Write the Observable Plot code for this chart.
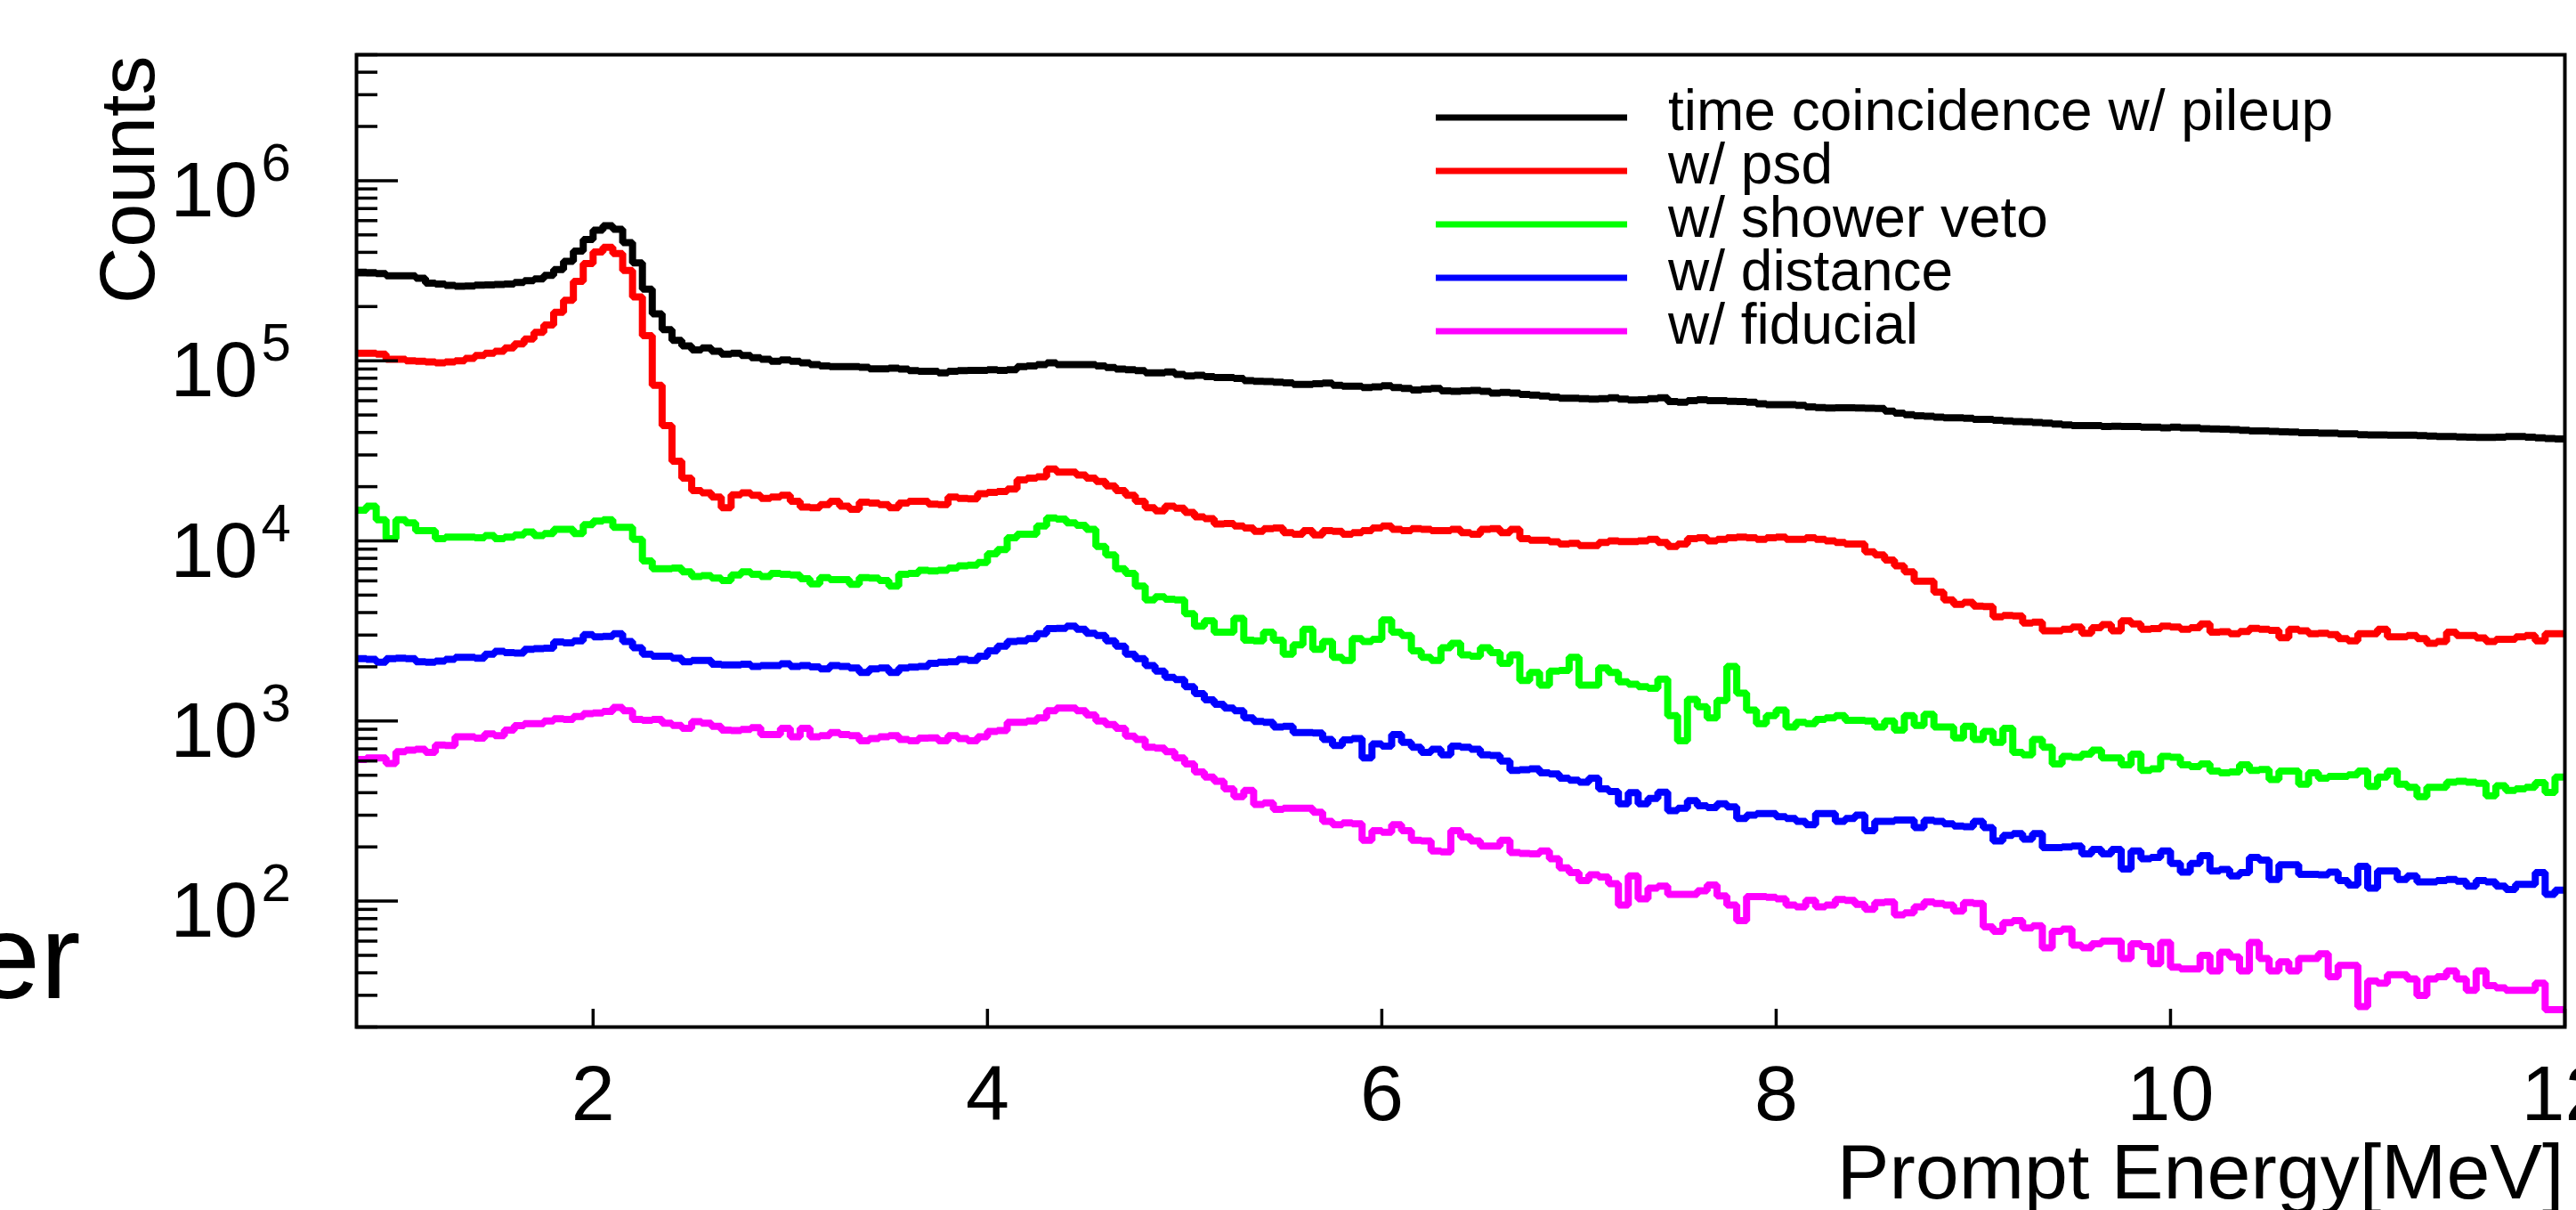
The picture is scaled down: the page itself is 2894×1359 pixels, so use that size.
<!DOCTYPE html>
<html><head><meta charset="utf-8">
<script src="https://cdn.jsdelivr.net/npm/d3@7"></script>
<script src="https://cdn.jsdelivr.net/npm/@observablehq/plot@0.6"></script>
<style>
html,body{margin:0;padding:0;background:#fff;}
#chart{width:2894px;height:1359px;overflow:hidden;}
</style></head><body><div id="chart"></div>
<script>
// Histogram binning (MeV): 224 bins from 0.8 to 12.0
const binStart = 0.8;
const binWidth = 0.05;

const seriesLabels = ["time coincidence w/ pileup", "w/ psd", "w/ shower veto", "w/ distance", "w/ fiducial"];
const seriesColors = ["#000000", "#ff0000", "#00ff00", "#0000ff", "#ff00ff"];

const timeCoincidence = [
310000,308000,305000,296000,296000,296000,287000,270000,267000,262000,
259000,260000,263000,264000,265000,267000,272000,278000,285000,298000,
321000,357000,407000,471000,531000,562000,537000,453000,350000,250000,
182000,149000,130000,121000,115000,118000,113000,109000,110000,107000,
104000,102000,99300,101000,99300,97300,95300,93500,92700,92700,
92700,92000,90200,90200,90900,89900,88100,87500,87500,85700,
87500,88100,88500,88500,89100,88500,89100,92700,93500,95300,
97300,95300,95300,95300,95300,93500,91700,89900,89100,88100,
85700,85700,86700,84000,82400,83000,81700,80700,80700,79800,
77600,76900,76700,76000,75500,74000,74000,74600,75200,73100,
72300,72300,71100,71600,72600,71100,70300,68900,69700,70300,
68100,67600,68100,68400,67600,66200,66800,66200,65000,64400,
63700,62900,61900,61900,61700,61200,61700,62400,61200,60500,
60700,61700,62400,59300,58900,60000,60700,60000,60000,59600,
59300,58900,57700,57000,57000,57000,56500,55500,55000,54700,
54900,54800,54700,54500,54300,52600,51200,50200,49500,49200,
48600,48200,48200,47900,47300,47300,46800,46400,46000,45800,
45500,45000,44600,44100,43700,43700,43700,43200,43300,43200,
43200,42800,42800,42400,42800,42400,42400,42000,41800,41700,
41500,41100,40800,40800,40500,40300,40200,39900,39900,39600,
39600,39300,39300,38900,38800,38800,38600,38600,38600,38400,
38200,38000,38000,37800,37700,37600,37600,37700,38000,38000,
37700,37300,37000,36800];

const withPsd = [
110000,110000,109000,102000,102000,100000,99500,98400,97300,98400,
100000,103000,107000,110000,113000,118000,124000,132000,144000,158000,
186000,217000,276000,347000,402000,427000,394000,317000,226000,138000,
73100,43700,27700,22300,19000,18500,17500,15300,18000,18500,
17900,17200,17500,17900,16600,15400,15300,15900,16600,15600,
15000,16400,16200,15900,15300,16200,16600,16600,16000,15900,
17500,17200,17100,18300,18600,18800,19400,21800,22300,22700,
25100,24100,24100,23200,22300,21400,20200,19000,17900,16600,
15300,14700,15600,15200,14400,13600,13300,12400,12500,12100,
11800,11300,11700,11800,11100,10900,11400,10800,11400,11300,
10900,11100,11400,11800,12100,11600,11400,11700,11600,11400,
11400,11600,11100,10900,11600,11700,11100,11600,10300,10100,
10100,9890,9610,9690,9420,9420,9800,10000,9920,9920,
10000,10200,9800,9310,9610,10300,10400,10000,10200,10400,
10500,10400,10200,10400,10500,10200,10200,10400,10200,10000,
9800,9610,9610,8710,8370,7820,7280,6730,5970,5970,
5200,4710,4440,4560,4350,4320,3790,3860,3830,3500,
3540,3170,3170,3230,3320,3070,3300,3430,3170,3600,
3460,3230,3260,3360,3320,3230,3300,3460,3110,3130,
3050,3140,3270,3230,3190,2900,3230,3170,3050,3070,
3020,2870,2790,3050,3050,3230,2930,2930,2980,2870,
2700,2760,3110,2980,2980,2890,2760,2840,2840,2930,
2980,2790,3050,3050];

const withShowerVeto = [
14800,15600,13100,10300,13100,12600,11400,11400,10300,10500,
10500,10500,10400,10700,10300,10500,10800,11200,10700,11000,
11600,11600,11000,12300,12900,13100,11900,11900,10200,7730,
7000,7000,7060,6730,6340,6420,6210,6020,6470,6730,
6520,6340,6600,6520,6470,6170,5780,6260,6100,6100,
5740,6260,6210,6020,5620,6520,6600,6860,6810,6860,
7060,7280,7340,7580,8470,8950,10400,10900,10900,12100,
13400,13200,12600,12200,11600,9310,8370,7000,6600,5620,
4710,4900,4740,4710,3940,3360,3600,3110,3110,3710,
2810,2790,3110,2810,2350,2650,3230,2500,2760,2260,
2170,2870,2760,2840,3640,3110,2980,2450,2260,2170,
2550,2700,2330,2290,2550,2400,2090,2330,1680,1860,
1580,1890,1910,2260,1580,1580,1970,1860,1650,1600,
1550,1520,1710,1070,776,1320,1200,1040,1300,2010,
1430,1150,966,1070,1150,927,984,966,1020,1040,
1070,1010,1010,1000,927,1000,891,1070,946,1090,
927,927,807,935,791,875,761,910,670,649,
791,716,577,637,630,655,689,624,624,572,
655,532,543,637,630,572,558,577,528,516,
522,572,532,538,473,528,528,446,516,481,
492,492,502,528,434,489,528,446,429,380,
429,429,458,463,458,451,385,437,412,420,
429,455,401,489];

const withDistance = [
2220,2200,2120,2220,2230,2220,2130,2120,2150,2200,
2260,2260,2230,2350,2440,2400,2380,2500,2520,2540,
2750,2720,2790,3020,2930,2950,3050,2760,2550,2350,
2290,2290,2230,2130,2170,2170,2070,2050,2050,2070,
2010,2030,2030,2080,2010,2030,2000,1950,2030,2010,
1970,1860,1950,1970,1860,1970,1990,2010,2090,2120,
2130,2200,2170,2290,2450,2600,2760,2790,2870,3050,
3260,3270,3360,3230,3070,2980,2790,2600,2350,2220,
2030,1890,1750,1700,1550,1420,1310,1240,1180,1140,
1040,996,984,927,935,863,863,857,791,731,
785,798,624,746,726,840,761,716,670,697,
649,726,716,697,649,644,600,532,537,543,
516,508,482,469,458,482,420,406,347,400,
347,372,403,318,328,361,338,331,347,334,
288,300,306,306,294,288,277,266,306,306,
277,288,300,246,277,277,282,282,256,281,
277,269,261,259,277,256,216,232,237,221,
237,198,198,200,202,183,194,183,194,151,
190,172,175,190,162,145,162,179,147,150,
138,144,175,169,132,159,159,141,141,140,
145,130,123,156,118,147,147,132,138,128,
128,130,132,129,121,130,128,121,116,124,
124,144,109,115];

const withFiducial = [
612,624,624,581,676,689,697,670,736,731,
817,817,804,849,830,891,942,966,966,1000,
1030,1020,1060,1100,1110,1130,1190,1140,1020,1010,
1020,973,946,910,993,973,935,891,885,899,
920,840,840,910,817,910,817,830,863,840,
830,776,798,817,830,791,776,804,807,776,
830,798,776,817,875,885,984,984,1000,1040,
1140,1180,1180,1140,1080,1000,957,910,824,791,
716,708,676,624,577,522,489,463,420,380,
412,344,351,323,328,328,328,312,277,266,
272,269,218,246,241,266,246,218,216,190,
188,246,227,216,202,202,218,186,184,183,
190,172,153,144,130,140,136,125,95,138,
103,118,121,109,109,109,114,123,107,95,
78,106,106,105,103,95,93,101,93,95,
102,101,96,90,98,99,84,86,93,99,
97,95,88,98,97,72,68,76,78,71,
73,55,68,70,57,55,58,60,60,48,
58,56,45,59,43,42,42,50,41,52,
49,41,59,48,41,46,41,48,48,51,
38,44,44,26,36,35,39,39,37,30,
37,38,41,37,32,41,34,33,32,32,
32,35,25,25];

// Axis ticks and labels
const xTicks = [2, 4, 6, 8, 10, 12];
const yMajorTicks = [1e2, 1e3, 1e4, 1e5, 1e6];
const yExponents = ["2", "3", "4", "5", "6"];
const xDomain = [0.8, 12];
const yDomain = [20, 5e6];
const xTitle = "Prompt Energy[MeV]";
const yTitle = "Counts";
const strayText = "er";

const allSeries = [timeCoincidence, withPsd, withShowerVeto, withDistance, withFiducial];

// Long table of bin edges (step-after needs the closing right edge)
const rows = [];
allSeries.forEach((vals, s) => {
  vals.forEach((v, i) => rows.push({series: seriesLabels[s], x: binStart + i * binWidth, count: v}));
  rows.push({series: seriesLabels[s], x: binStart + vals.length * binWidth, count: vals[vals.length - 1]});
});

const yMinorTicks = [];
for (let k = 1; k <= 6; k++) for (let m = 2; m <= 9; m++) {
  const v = m * Math.pow(10, k);
  if (v >= yDomain[0] && v <= yDomain[1]) yMinorTicks.push(v);
}

const W = 2894, H = 1359;
const mL = 400, mT = 61, mR = 13, mB = 206;
const frameW = W - mL - mR, frameH = H - mT - mB;
const font = "'Liberation Sans', Arial, Helvetica, sans-serif";

const chart = Plot.plot({
  width: W, height: H,
  marginLeft: mL, marginTop: mT, marginRight: mR, marginBottom: mB,
  x: {domain: xDomain, axis: null},
  y: {type: "log", domain: yDomain, axis: null},
  color: {domain: seriesLabels, range: seriesColors},
  style: {fontFamily: font, background: "white", color: "black"},
  marks: [
    Plot.line(rows, {x: "x", y: "count", z: "series", stroke: "series", strokeWidth: 8, curve: "step-after", strokeLinejoin: "miter", strokeLinecap: "butt"}),
    Plot.frame({stroke: "black", strokeWidth: 4}),
    Plot.tickY(yMajorTicks, {y: d => d, insetRight: frameW - 47, strokeWidth: 3.5, stroke: "black"}),
    Plot.tickY(yMinorTicks, {y: d => d, insetRight: frameW - 24, strokeWidth: 3.5, stroke: "black"}),
    Plot.tickX(xTicks, {x: d => d, insetTop: frameH - 20, strokeWidth: 3.5, stroke: "black"}),
    Plot.text(yMajorTicks, {y: d => d, frameAnchor: "left", text: () => "10", textAnchor: "end", lineAnchor: "bottom", dx: -111, dy: 40, fontSize: 88}),
    Plot.text(yMajorTicks, {y: d => d, frameAnchor: "left", text: (d, i) => yExponents[i], textAnchor: "start", lineAnchor: "bottom", dx: -107, dy: 0, fontSize: 60}),
    Plot.text(xTicks, {x: d => d, frameAnchor: "bottom", text: d => String(d), textAnchor: "middle", lineAnchor: "bottom", dy: 104, fontSize: 88}),
    Plot.text([yTitle], {frameAnchor: "top-left", text: d => d, rotate: -90, textAnchor: "end", lineAnchor: "bottom", dx: -228, dy: 1, fontSize: 88}),
    Plot.text([xTitle], {frameAnchor: "bottom-right", text: d => d, textAnchor: "end", lineAnchor: "bottom", dx: -1, dy: 192, fontSize: 88}),
    Plot.text([strayText], {frameAnchor: "top-left", text: d => d, textAnchor: "end", lineAnchor: "bottom", dx: -310, dy: 1059, fontSize: 136})
  ]
});
document.getElementById("chart").appendChild(chart);

// Legend (inside the frame, top right)
const svg = d3.select(chart);
const lg = svg.append("g").attr("font-family", font).attr("text-anchor", "start");
seriesLabels.forEach((lab, i) => {
  const cy = 132 + 60 * i;
  lg.append("line").attr("x1", 1613).attr("x2", 1828).attr("y1", cy).attr("y2", cy)
    .attr("stroke", seriesColors[i]).attr("stroke-width", 7);
  lg.append("text").attr("x", 1874).attr("y", cy + 14).attr("font-size", 64)
    .attr("text-anchor", "start").attr("fill", "black").text(lab);
});
</script>
</body></html>
